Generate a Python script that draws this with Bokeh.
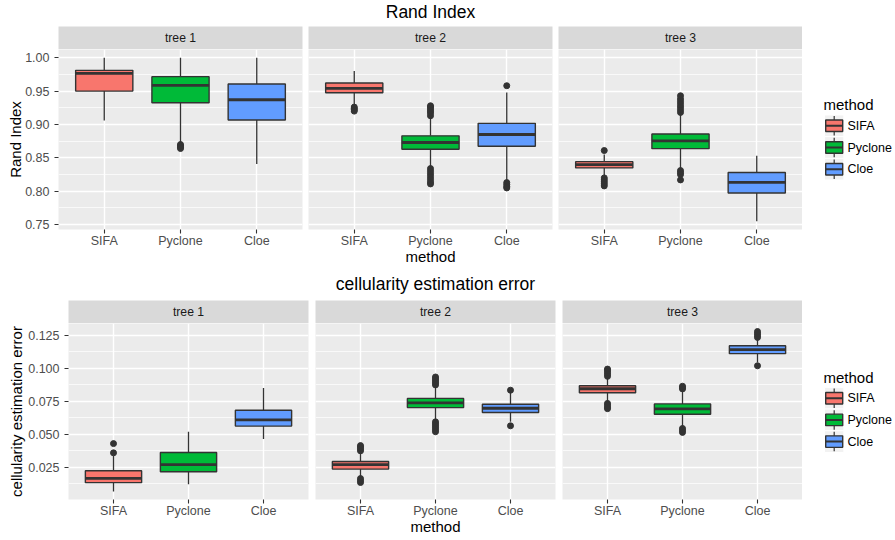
import numpy as np
from bokeh.plotting import figure
from bokeh.layouts import row, column
from bokeh.models import Range1d, FixedTicker, PrintfTickFormatter, Label
from bokeh.embed import file_html
from bokeh.resources import INLINE
from bokeh.core.properties import value

FONT = "Liberation Sans"

# ---------------- data ----------------
methods = ["SIFA", "Pyclone", "Cloe"]
trees = ["tree 1", "tree 2", "tree 3"]
fills = ["#F8766D", "#00BA38", "#619CFF"]

# (lower whisker, Q1, median, Q3, upper whisker) for SIFA, Pyclone, Cloe
rand_tree1 = [(0.906, 0.950, 0.9765, 0.981, 1.000),
              (0.873, 0.9326, 0.9585, 0.9716, 1.000),
              (0.841, 0.9067, 0.937, 0.9606, 1.000)]
rand_tree2 = [(0.929, 0.9476, 0.954, 0.962, 0.980),
              (0.837, 0.863, 0.873, 0.883, 0.910),
              (0.817, 0.8673, 0.885, 0.9017, 0.948)]
rand_tree3 = [(0.822, 0.835, 0.840, 0.8443, 0.855),
              (0.834, 0.8638, 0.8753, 0.8858, 0.915),
              (0.755, 0.7975, 0.8134, 0.828, 0.853)]
rand_out_tree1 = [[], [0.870, 0.868, 0.866, 0.864], []]
rand_out_tree2 = [[0.926, 0.924, 0.922, 0.920],
                  [0.913, 0.917, 0.920, 0.923, 0.926, 0.928, 0.834, 0.830, 0.826, 0.822, 0.818, 0.814, 0.811],
                  [0.958, 0.813, 0.810, 0.807, 0.805]]
rand_out_tree3 = [[0.861, 0.820, 0.817, 0.814, 0.811, 0.808],
                  [0.918, 0.922, 0.926, 0.930, 0.934, 0.938, 0.943, 0.831, 0.828, 0.825, 0.817],
                  []]

cell_tree1 = [(0.0067, 0.0134, 0.0167, 0.0224, 0.034),
              (0.0122, 0.0217, 0.027, 0.0363, 0.052),
              (0.0465, 0.0563, 0.061, 0.0683, 0.0852)]
cell_tree2 = [(0.0175, 0.0237, 0.027, 0.0295, 0.0365),
              (0.060, 0.0703, 0.0739, 0.0773, 0.0865),
              (0.0595, 0.0666, 0.0698, 0.0728, 0.0815)]
cell_tree3 = [(0.0745, 0.0816, 0.0846, 0.0869, 0.0925),
              (0.0555, 0.0653, 0.0694, 0.0731, 0.0835),
              (0.1045, 0.1112, 0.1142, 0.1172, 0.1215)]
cell_out_tree1 = [[0.036, 0.043], [], []]
cell_out_tree2 = [[0.0375, 0.039, 0.0405, 0.0415, 0.0165, 0.015, 0.0135],
                  [0.0875, 0.089, 0.0905, 0.092, 0.0935, 0.0595, 0.058, 0.0565, 0.055, 0.0535, 0.052],
                  [0.0835, 0.0565]]
cell_out_tree3 = [[0.094, 0.0955, 0.097, 0.0985, 0.0995, 0.0735, 0.072, 0.0705, 0.0695],
                  [0.0845, 0.0855, 0.0865, 0.0545, 0.053, 0.0515],
                  [0.1235, 0.125, 0.1265, 0.128, 0.102]]

rand_ticks = [0.75, 0.80, 0.85, 0.90, 0.95, 1.00]
cell_ticks = [0.025, 0.050, 0.075, 0.100, 0.125]

# ---------------- style / layout constants ----------------
STRIP_H = 23
XB = 38          # bottom border (tick labels + "method")
LEG_W = 91
INK = "#333333"


def data_limits(stats_all, outs_all):
    vals = [v for st in stats_all for s in st for v in s] + \
           [v for o in outs_all for ol in o for v in ol]
    lo, hi = min(vals), max(vals)
    pad = 0.05 * (hi - lo)
    return lo - pad, hi + pad


def bare(fig):
    fig.outline_line_color = None
    fig.background_fill_color = "white"
    fig.border_fill_color = "white"
    for g in fig.grid:
        g.visible = False


def style_axis(ax, standoff):
    ax.axis_line_color = None
    ax.major_tick_line_color = INK
    ax.major_tick_line_width = 1.1
    ax.major_tick_out = 4
    ax.major_tick_in = 0
    ax.minor_tick_line_color = None
    ax.major_label_text_font = FONT
    ax.major_label_text_font_size = "12.5px"
    ax.major_label_text_color = "#4D4D4D"
    ax.major_label_text_line_height = 1.0
    ax.major_label_standoff = standoff


def axis_title(ax, text, standoff):
    ax.axis_label = text
    ax.axis_label_text_font = FONT
    ax.axis_label_text_font_size = "15px"
    ax.axis_label_text_font_style = "normal"
    ax.axis_label_text_color = "black"
    ax.axis_label_text_line_height = 1.0
    ax.axis_label_standoff = standoff


def panel(stats, outs, ylim, ticks, fmt, fw, fh, bl, br, ylab, ylab_standoff, xlabel):
    xs = [i + 1 for i in range(len(methods))]
    x0, x1 = xs[0] - 0.6, xs[-1] + 0.6
    p = figure(frame_width=fw, frame_height=fh,
               x_range=Range1d(x0, x1), y_range=Range1d(*ylim),
               toolbar_location=None, output_backend="svg",
               y_axis_location="left" if ylab else None,
               min_border_left=bl, min_border_right=br, min_border_top=0, min_border_bottom=XB)
    p.background_fill_color = "#EBEBEB"
    p.border_fill_color = "white"
    p.outline_line_color = None

    step = ticks[1] - ticks[0]
    minor = [t - step / 2 for t in ticks] + [ticks[-1] + step / 2]
    minor = [m for m in minor if ylim[0] < m < ylim[1]]

    p.xgrid.ticker = FixedTicker(ticks=xs)
    p.ygrid.ticker = FixedTicker(ticks=ticks, minor_ticks=minor)
    p.xgrid.grid_line_color = "white"
    p.xgrid.grid_line_width = 1.4
    p.ygrid.grid_line_color = "white"
    p.ygrid.grid_line_width = 1.4
    p.ygrid.minor_grid_line_color = "white"
    p.ygrid.minor_grid_line_width = 0.7

    xa = p.xaxis[0]
    xa.ticker = FixedTicker(ticks=xs)
    xa.major_label_overrides = {x: m for x, m in zip(xs, methods)}
    style_axis(xa, 0)
    if xlabel:
        axis_title(xa, xlabel, -3)

    if ylab:
        ya = p.yaxis[0]
        ya.ticker = FixedTicker(ticks=ticks, minor_ticks=minor)
        ya.formatter = PrintfTickFormatter(format=fmt)
        style_axis(ya, 5)
        axis_title(ya, ylab, ylab_standoff)

    lo = [s[0] for s in stats]
    q1 = [s[1] for s in stats]
    med = [s[2] for s in stats]
    q3 = [s[3] for s in stats]
    hi = [s[4] for s in stats]
    half = 0.375
    p.segment(x0=xs, x1=xs, y0=q3, y1=hi, line_color=INK, line_width=1.3)
    p.segment(x0=xs, x1=xs, y0=lo, y1=q1, line_color=INK, line_width=1.3)
    p.vbar(x=xs, width=2 * half, bottom=q1, top=q3, fill_color=fills,
           line_color=INK, line_width=1.4)
    p.segment(x0=[x - half for x in xs], x1=[x + half for x in xs], y0=med, y1=med,
              line_color=INK, line_width=2.8)
    ox = [xs[i] for i, o in enumerate(outs) for v in o]
    oy = [v for o in outs for v in o]
    if oy:
        p.scatter(x=ox, y=oy, size=6, fill_color=INK, line_color=INK)
    return p


def strip(text, fw, bl, br):
    s = figure(frame_width=fw, frame_height=STRIP_H, x_range=Range1d(0, 1), y_range=Range1d(0, 1),
               toolbar_location=None, output_backend="svg",
               x_axis_location=None, y_axis_location=None,
               min_border_left=bl, min_border_right=br, min_border_top=0, min_border_bottom=0)
    bare(s)
    s.background_fill_color = "#D9D9D9"
    s.add_layout(Label(x=0.5, y=0.5, text=text, text_align="center", text_baseline="middle",
                       text_font=FONT, text_font_size="12.2px", text_color="#1A1A1A"))
    return s


def title_fig(text, left, span, right, h, cy):
    t = figure(frame_width=span, frame_height=h, x_range=Range1d(0, 1), y_range=Range1d(h, 0),
               toolbar_location=None, output_backend="svg",
               x_axis_location=None, y_axis_location=None,
               min_border_left=left, min_border_right=right, min_border_top=0, min_border_bottom=0)
    bare(t)
    t.add_layout(Label(x=0.5, y=cy, text=text, text_align="center", text_baseline="middle",
                       text_font=FONT, text_font_size="17.5px", text_color="black"))
    return t


def legend_fig(h, title_y, key_y0):
    lg = figure(frame_width=LEG_W, frame_height=h, x_range=Range1d(0, LEG_W), y_range=Range1d(h, 0),
                toolbar_location=None, output_backend="svg",
                x_axis_location=None, y_axis_location=None, min_border=0)
    bare(lg)
    n = len(methods)
    pitch = 21.7
    kx = 31.7
    cy = [key_y0 + i * pitch for i in range(n)]
    lg.rect(x=[kx] * n, y=cy, width=19.3, height=pitch, fill_color="#F2F2F2",
            line_color="white", line_width=1)
    lg.segment(x0=[kx] * n, x1=[kx] * n, y0=[c - 0.45 * pitch for c in cy],
               y1=[c + 0.45 * pitch for c in cy], line_color=INK, line_width=1.2)
    lg.rect(x=[kx] * n, y=cy, width=17.0, height=11.5, fill_color=fills,
            line_color=INK, line_width=1.4)
    lg.segment(x0=[kx - 8.5] * n, x1=[kx + 8.5] * n, y0=cy, y1=cy, line_color=INK, line_width=2)
    lg.text(x=[45] * n, y=cy, text=methods, text_font=value(FONT), text_font_size=value("12.5px"),
            text_baseline="middle", text_align="left", text_color="black")
    lg.text(x=[21], y=[title_y], text=["method"], text_font=value(FONT),
            text_font_size=value("15px"), text_baseline="middle", text_align="left",
            text_color="black")
    return lg


def block(title, ylab, stats_all, outs_all, ticks, fmt, fw, fh, bl, gap, ylab_standoff,
          title_h, title_cy, leg_title_y, leg_key_y0):
    ylim = data_limits(stats_all, outs_all)
    cols = []
    for k, tree in enumerate(trees):
        first = k == 0
        last = k == len(trees) - 1
        left = bl if first else 0
        right = 0 if last else gap
        s = strip(tree, fw, left, right)
        p = panel(stats_all[k], outs_all[k], ylim, ticks, fmt, fw, fh, left, right,
                  ylab if first else None, ylab_standoff, "method" if k == 1 else None)
        cols.append(column(s, p))
    lg = legend_fig(STRIP_H + fh, leg_title_y, leg_key_y0)
    t = title_fig(title, bl, 3 * fw + 2 * gap, LEG_W, title_h, title_cy)
    return column(t, row(*cols, lg))


top = block("Rand Index", "Rand Index",
            [rand_tree1, rand_tree2, rand_tree3],
            [rand_out_tree1, rand_out_tree2, rand_out_tree3],
            rand_ticks, "%.2f", 244, 180, 58, 6, -2, 26, 11.5, 78, 99.3)
bottom = block("cellularity estimation error", "cellularity estimation error",
               [cell_tree1, cell_tree2, cell_tree3],
               [cell_out_tree1, cell_out_tree2, cell_out_tree3],
               cell_ticks, "%.3f", 240, 176, 68, 7, 0, 33, 16.3, 77, 97.7)

layout = column(top, bottom)

open("out.html", "w").write(file_html(layout, INLINE))
